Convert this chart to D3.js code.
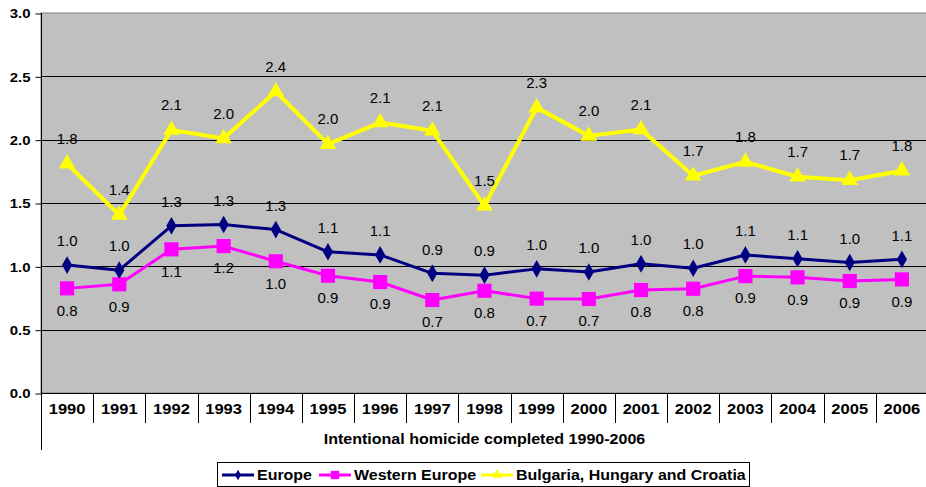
<!DOCTYPE html>
<html>
<head>
<meta charset="utf-8">
<script src="https://cdn.jsdelivr.net/npm/d3@7"></script>
<style>
  html, body { margin: 0; padding: 0; background: #fff; }
  svg { display: block; font-family: "Liberation Sans", Arial, Helvetica, sans-serif; }
</style>
</head>
<body>
<svg id="chart" width="926" height="487"></svg>
<script>
const years = ["1990","1991","1992","1993","1994","1995","1996","1997","1998","1999","2000","2001","2002","2003","2004","2005","2006"];
const europe = [1.01,0.97,1.32,1.33,1.29,1.115,1.09,0.945,0.93,0.98,0.955,1.02,0.985,1.09,1.06,1.03,1.055];
const westernEurope = [0.826,0.858,1.134,1.16,1.04,0.926,0.876,0.734,0.807,0.745,0.742,0.813,0.823,0.923,0.913,0.884,0.897];
const bhc = [1.81,1.405,2.076,2.01,2.38,1.965,2.135,2.07,1.478,2.253,2.03,2.08,1.715,1.825,1.707,1.68,1.755];
const yTicks = [0,0.5,1.0,1.5,2.0,2.5,3.0];
const seriesNames = ["Europe","Western Europe","Bulgaria, Hungary and Croatia"];
const xTitle = "Intentional homicide completed 1990-2006";

(function () {
const svg = d3.select("#chart");
const pL = 41, pR = 928, pT = 13, pB = 393;

const x = d3.scaleBand().domain(years).range([pL, pR]).padding(0);
const y = d3.scaleLinear().domain([0, 3]).range([pB, pT]);
const fmt = d3.format(".1f");

function stretch(sel, k) {
  sel.each(function () {
    const w = this.getComputedTextLength();
    d3.select(this).attr("textLength", w * k).attr("lengthAdjust", "spacingAndGlyphs");
  });
}

// plot background
svg.append("rect").attr("x", pL).attr("y", pT).attr("width", pR - pL).attr("height", pB - pT)
  .attr("fill", "#C0C0C0").attr("stroke", "#808080").attr("stroke-width", 1);

// gridlines
svg.append("g").selectAll("line").data(yTicks.filter(d => d > 0 && d < 3)).join("line")
  .attr("x1", pL).attr("x2", pR)
  .attr("y1", d => Math.round(y(d)) + 0.5).attr("y2", d => Math.round(y(d)) + 0.5)
  .attr("stroke", "#000").attr("stroke-width", 1);

// y axis
const yAxis = d3.axisLeft(y).tickValues(yTicks).tickFormat(fmt).tickSize(6).tickPadding(5);
const gy = svg.append("g").attr("transform", `translate(${pL + 0.5},0.5)`).call(yAxis);
gy.select(".domain").remove();
gy.selectAll(".tick line").attr("stroke", "#000");
gy.selectAll(".tick text").attr("font-size", 13).attr("font-weight", "bold").attr("fill", "#000")
  .attr("font-family", "Liberation Sans, Arial, sans-serif");
stretch(gy.selectAll(".tick text"), 1.15);
svg.append("line").attr("x1", pL + 0.5).attr("x2", pL + 0.5).attr("y1", pT).attr("y2", 450)
  .attr("stroke", "#000").attr("stroke-width", 1);

// x axis line
svg.append("line").attr("x1", pL).attr("x2", pR).attr("y1", pB + 0.5).attr("y2", pB + 0.5)
  .attr("stroke", "#000").attr("stroke-width", 1);

// x axis (category labels with separators)
const xAxis = d3.axisBottom(x).tickSize(0).tickPadding(10);
const gx = svg.append("g").attr("transform", `translate(0,${pB})`).call(xAxis);
gx.select(".domain").remove();
gx.selectAll(".tick text").attr("font-size", 14).attr("font-weight", "bold").attr("fill", "#000")
  .attr("font-family", "Liberation Sans, Arial, sans-serif").attr("dy", "0.75em");
stretch(gx.selectAll(".tick text"), 1.18);
svg.append("g").selectAll("line").data(years.slice(1).concat(["end"])).join("line")
  .attr("x1", d => Math.round(d === "end" ? pR : x(d)) + 0.5)
  .attr("x2", d => Math.round(d === "end" ? pR : x(d)) + 0.5)
  .attr("y1", pB).attr("y2", pB + 30)
  .attr("stroke", "#000").attr("stroke-width", 1);

// x title
const title = svg.append("text").attr("x", (pL + pR) / 2).attr("y", 444).attr("text-anchor", "middle")
  .attr("font-size", 14).attr("font-weight", "bold").text(xTitle);
stretch(title, 1.145);

const series = [
  { name: seriesNames[0], values: europe, color: "#000080", width: 3, symbol: d3.symbolDiamond, size: 90, labelDy: -24 },
  { name: seriesNames[1], values: westernEurope, color: "#FF00FF", width: 3, symbol: d3.symbolSquare, size: 200, labelDy: 22 },
  { name: seriesNames[2], values: bhc, color: "#FFFF00", width: 4, symbol: d3.symbolTriangle, size: 120, labelDy: -25 }
];

const line = d3.line().x((d, i) => x(years[i]) + x.bandwidth() / 2).y(d => y(d));

[2, 1, 0].forEach(k => {
  const s = series[k];
  const g = svg.append("g");
  g.append("path").datum(s.values).attr("d", line).attr("fill", "none")
    .attr("stroke", s.color).attr("stroke-width", s.width).attr("stroke-linejoin", "round");
  g.selectAll("path.m").data(s.values).join("path").attr("class", "m")
    .attr("transform", (d, i) => `translate(${x(years[i]) + x.bandwidth() / 2},${y(d)})`)
    .attr("d", d3.symbol().type(s.symbol).size(s.size))
    .attr("fill", s.color);
});
series.forEach(s => {
  svg.append("g").selectAll("text").data(s.values).join("text")
    .attr("x", (d, i) => x(years[i]) + x.bandwidth() / 2)
    .attr("y", d => y(d) + s.labelDy)
    .attr("dy", "0.35em")
    .attr("text-anchor", "middle")
    .attr("font-size", 15)
    .attr("fill", "#000")
    .text(d => fmt(d));
});

// legend
const lg = svg.append("g");
lg.append("rect").attr("x", 217.5).attr("y", 462.5).attr("width", 532).attr("height", 24)
  .attr("fill", "#fff").attr("stroke", "#000").attr("stroke-width", 1);
const legendX = [222, 319, 481];
series.forEach((s, k) => {
  const lx = legendX[k];
  lg.append("line").attr("x1", lx).attr("x2", lx + 32).attr("y1", 475).attr("y2", 475)
    .attr("stroke", s.color).attr("stroke-width", 3);
  lg.append("path").attr("transform", `translate(${lx + 16},475)`)
    .attr("d", d3.symbol().type(s.symbol).size(s.size * 0.35)).attr("fill", s.color);
  const t = lg.append("text").attr("x", lx + 35).attr("y", 475).attr("dy", "0.35em")
    .attr("font-size", 14).attr("font-weight", "bold").text(s.name);
  stretch(t, 1.14);
});
})();
</script>
</body>
</html>
